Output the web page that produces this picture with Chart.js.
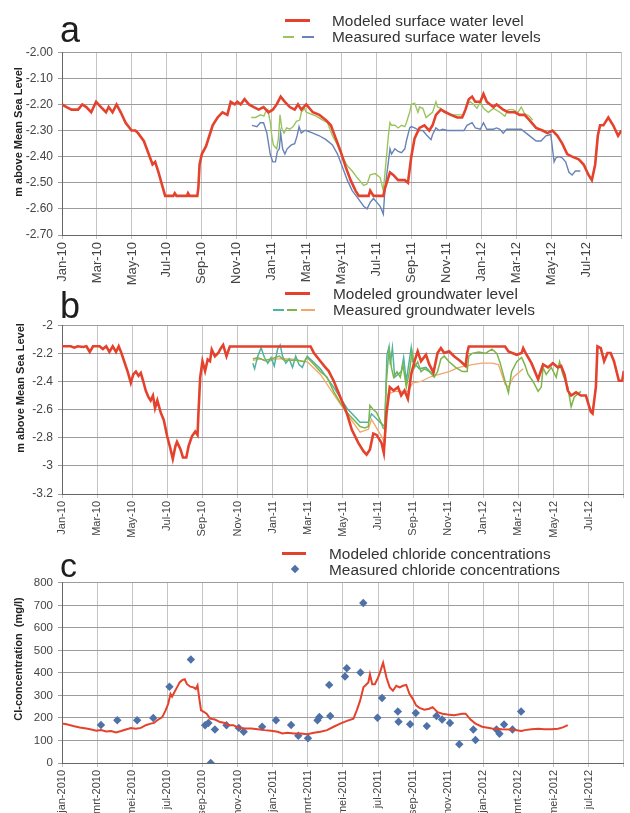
<!DOCTYPE html>
<html><head><meta charset="utf-8">
<script src="https://cdn.jsdelivr.net/npm/chart.js@4.4.0/dist/chart.umd.min.js"></script>
<style>
html,body{margin:0;padding:0;width:630px;height:813px;overflow:hidden;background:#fff;font-family:"Liberation Sans",Arial,sans-serif;}
#wrap{position:relative;width:630px;height:813px;overflow:hidden;}
canvas{position:absolute;left:0;}
.letter{position:absolute;font-size:36px;color:#1e1e1e;line-height:1;}
.leg{position:absolute;font-size:15.4px;color:#333;white-space:nowrap;line-height:1;}
.sw{position:absolute;}
.ytitle{position:absolute;font-weight:bold;font-size:11px;color:#222;white-space:nowrap;line-height:1;transform:translate(-50%,-50%) rotate(-90deg);}
</style></head>
<body><div id="wrap">
<canvas id="ca" width="640" height="250" style="top:40px"></canvas>
<canvas id="cb" width="640" height="236" style="top:313px"></canvas>
<canvas id="cc" width="640" height="242" style="top:571px"></canvas>

<div class="letter" style="left:60px;top:12px">a</div>
<div class="letter" style="left:60px;top:288px">b</div>
<div class="letter" style="left:60px;top:548px;font-size:34px">c</div>

<div class="sw" style="left:285px;top:19px;width:25px;height:3px;background:#e4422c"></div>
<div class="sw" style="left:283px;top:35.5px;width:11px;height:2px;background:#9cc45c"></div>
<div class="sw" style="left:302px;top:35.5px;width:12px;height:2px;background:#6883b8"></div>
<div class="leg" style="left:332px;top:13px">Modeled surface water level</div>
<div class="leg" style="left:332px;top:29px">Measured surface water levels</div>

<div class="sw" style="left:285px;top:292px;width:25px;height:3px;background:#e4422c"></div>
<div class="sw" style="left:273px;top:309px;width:11px;height:2px;background:#4fb3a2"></div>
<div class="sw" style="left:287px;top:309px;width:10px;height:2px;background:#7cb64a"></div>
<div class="sw" style="left:301px;top:309px;width:14px;height:2px;background:#f3a66a"></div>
<div class="leg" style="left:333px;top:286px">Modeled groundwater level</div>
<div class="leg" style="left:333px;top:302px">Measured groundwater levels</div>

<div class="sw" style="left:282px;top:552px;width:24px;height:3px;background:#e4422c"></div>
<div class="sw" style="left:292px;top:566px;width:6px;height:6px;background:#4e71a8;transform:rotate(45deg)"></div>
<div class="leg" style="left:329px;top:546px">Modeled chloride concentrations</div>
<div class="leg" style="left:329px;top:562px">Measured chloride concentrations</div>

<div class="ytitle" style="left:18px;top:132px">m above Mean Sea Level</div>
<div class="ytitle" style="left:20px;top:388px">m above Mean Sea Level</div>
<div class="ytitle" style="left:17.5px;top:659px">Cl-concentration&nbsp;&nbsp;(mg/l)</div>
</div>
<script>
// x values are months since 1 Jan 2010
const tickMonths = [0,2,4,6,8,10,12,14,16,18,20,22,24,26,28,30,32];
const levelTickLabels = ['Jan-10','Mar-10','May-10','Jul-10','Sep-10','Nov-10','Jan-11','Mar-11','May-11','Jul-11','Sep-11','Nov-11','Jan-12','Mar-12','May-12','Jul-12',''];
const chlorideTickLabels = ['jan-2010','mrt-2010','mei-2010','jul-2010','sep-2010','nov-2010','jan-2011','mrt-2011','mei-2011','jul-2011','sep-2011','nov-2011','jan-2012','mrt-2012','mei-2012','jul-2012',''];

// Panel a: surface water
const swModelMonths = [0,0.26,0.54,0.92,1.16,1.39,1.67,1.95,2.23,2.52,2.67,2.89,3.12,3.36,3.64,3.98,4.2,4.35,4.68,4.96,5.18,5.33,5.52,5.9,6.37,6.45,6.55,7.15,7.21,7.3,7.74,7.8,7.87,8.0,8.24,8.43,8.62,8.9,9.18,9.46,9.65,9.88,10.03,10.22,10.44,10.69,10.97,11.25,11.53,11.81,12.06,12.28,12.51,12.75,13.03,13.31,13.5,13.69,13.97,14.35,14.72,15.1,15.38,15.66,15.94,16.23,16.51,16.79,16.98,17.54,17.63,17.82,18.38,18.48,18.76,18.95,19.23,19.61,19.79,19.98,20.17,20.45,20.73,21.01,21.2,21.39,21.67,21.95,22.24,22.61,22.89,23.08,23.27,23.46,23.64,23.93,24.11,24.3,24.49,24.68,24.86,25.24,25.52,25.9,26.18,26.46,26.74,27.12,27.49,27.77,28.06,28.34,28.62,28.9,29.18,29.56,29.84,30.12,30.31,30.5,30.65,30.78,30.97,31.25,31.53,31.81,32.0];
const swModelLevel = [-2.20,-2.21,-2.22,-2.22,-2.20,-2.21,-2.23,-2.19,-2.21,-2.23,-2.21,-2.23,-2.20,-2.23,-2.27,-2.30,-2.30,-2.31,-2.34,-2.39,-2.43,-2.42,-2.46,-2.55,-2.55,-2.54,-2.55,-2.55,-2.54,-2.55,-2.55,-2.52,-2.43,-2.39,-2.36,-2.32,-2.28,-2.25,-2.23,-2.24,-2.19,-2.20,-2.19,-2.20,-2.18,-2.20,-2.21,-2.22,-2.21,-2.23,-2.22,-2.20,-2.17,-2.19,-2.21,-2.22,-2.20,-2.22,-2.20,-2.23,-2.24,-2.26,-2.28,-2.33,-2.38,-2.44,-2.49,-2.53,-2.55,-2.55,-2.53,-2.55,-2.55,-2.52,-2.46,-2.47,-2.49,-2.49,-2.50,-2.40,-2.33,-2.29,-2.28,-2.30,-2.28,-2.24,-2.22,-2.23,-2.24,-2.25,-2.25,-2.22,-2.18,-2.17,-2.19,-2.19,-2.16,-2.19,-2.20,-2.21,-2.20,-2.22,-2.23,-2.23,-2.24,-2.24,-2.26,-2.29,-2.30,-2.31,-2.30,-2.32,-2.35,-2.39,-2.40,-2.41,-2.43,-2.47,-2.49,-2.43,-2.32,-2.28,-2.28,-2.25,-2.28,-2.32,-2.30];
const swGreenMonths = [10.82,11.07,11.36,11.55,11.64,11.77,11.92,12.0,12.09,12.28,12.38,12.47,12.57,12.7,12.85,13.03,13.22,13.41,13.6,13.69,13.88,13.97,14.54,14.91,15.19,15.47,15.76,16.04,16.32,16.6,16.88,17.26,17.45,17.63,17.91,18.2,18.38,18.48,18.67,18.76,18.85,19.04,19.23,19.42,19.61,19.7,19.89,19.98,20.17,20.36,20.45,20.64,20.83,21.01,21.2,21.39,21.48,21.67,21.86,22.14,22.42,22.7,22.99,23.17,23.36,23.55,23.74,23.93,24.11,24.39,24.68,25.05,25.33,25.52,25.8,26.08,26.27,26.46,26.74,26.93];
const swGreenLevel = [-2.25,-2.25,-2.24,-2.245,-2.23,-2.22,-2.27,-2.32,-2.355,-2.37,-2.33,-2.24,-2.29,-2.31,-2.29,-2.295,-2.285,-2.265,-2.26,-2.23,-2.215,-2.23,-2.245,-2.26,-2.27,-2.32,-2.355,-2.40,-2.435,-2.455,-2.48,-2.51,-2.505,-2.47,-2.465,-2.48,-2.53,-2.46,-2.32,-2.27,-2.28,-2.28,-2.29,-2.28,-2.285,-2.27,-2.23,-2.20,-2.195,-2.23,-2.21,-2.215,-2.25,-2.24,-2.23,-2.19,-2.21,-2.215,-2.23,-2.235,-2.24,-2.24,-2.24,-2.20,-2.19,-2.20,-2.215,-2.19,-2.215,-2.23,-2.215,-2.23,-2.245,-2.22,-2.22,-2.23,-2.21,-2.235,-2.245,-2.26];
const swBlueMonths = [10.87,11.15,11.34,11.53,11.72,11.91,12.06,12.21,12.32,12.43,12.51,12.62,12.75,12.88,13.12,13.31,13.45,13.56,13.69,13.88,13.97,14.35,14.72,15.1,15.47,15.76,16.04,16.32,16.6,16.88,17.26,17.45,17.63,17.82,18.01,18.2,18.38,18.48,18.67,18.76,18.85,19.04,19.23,19.42,19.61,19.7,19.89,19.98,20.17,20.45,20.64,20.83,21.11,21.2,21.39,21.58,21.77,22.05,22.33,22.8,22.99,23.17,23.46,23.64,23.93,24.11,24.3,24.68,24.86,25.05,25.24,25.43,25.61,25.99,26.27,26.55,26.93,27.12,27.4,27.68,27.96,28.15,28.25,28.43,28.62,28.81,29.0,29.18,29.37,29.65];
const swBlueLevel = [-2.28,-2.285,-2.27,-2.27,-2.31,-2.39,-2.42,-2.42,-2.38,-2.37,-2.31,-2.37,-2.39,-2.37,-2.355,-2.35,-2.32,-2.285,-2.31,-2.30,-2.30,-2.31,-2.32,-2.335,-2.355,-2.39,-2.44,-2.49,-2.53,-2.555,-2.59,-2.60,-2.575,-2.56,-2.575,-2.59,-2.62,-2.52,-2.42,-2.37,-2.39,-2.37,-2.38,-2.385,-2.37,-2.34,-2.29,-2.285,-2.29,-2.30,-2.30,-2.315,-2.335,-2.315,-2.29,-2.30,-2.295,-2.30,-2.30,-2.30,-2.30,-2.28,-2.27,-2.29,-2.295,-2.27,-2.295,-2.295,-2.29,-2.295,-2.31,-2.295,-2.295,-2.295,-2.295,-2.31,-2.33,-2.34,-2.34,-2.32,-2.315,-2.42,-2.405,-2.40,-2.405,-2.42,-2.46,-2.47,-2.455,-2.455];

// Panel b: groundwater
const gwModelMonths = [0,0.5,0.7,0.9,1.2,1.39,1.58,1.77,2.14,2.33,2.52,2.7,2.89,3.08,3.23,3.36,3.55,3.74,3.92,4.06,4.21,4.36,4.49,4.62,4.77,4.92,5.05,5.18,5.3,5.43,5.62,5.8,5.99,6.18,6.31,6.46,6.55,6.74,6.89,7.08,7.21,7.4,7.59,7.72,7.77,7.87,8.0,8.15,8.3,8.43,8.53,8.71,8.9,9.05,9.18,9.37,9.56,12.0,12.3,13.97,14.16,14.35,14.72,15.0,15.19,15.47,15.85,16.23,16.51,16.88,17.17,17.35,17.54,17.73,17.92,18.2,18.33,18.48,18.67,18.89,19.14,19.32,19.51,19.7,19.89,20.08,20.26,20.45,20.73,20.92,21.16,21.39,21.58,21.77,22.05,22.33,22.7,22.99,23.08,23.17,24.49,25.24,25.43,25.9,26.18,26.27,26.46,26.74,27.12,27.4,27.68,27.96,28.25,28.43,28.62,28.81,29.0,29.28,29.56,29.84,30.12,30.22,30.41,30.5,30.69,30.88,31.07,31.25,31.44,31.72,31.91,32.0];
const gwModelLevel = [-2.15,-2.15,-2.16,-2.15,-2.155,-2.15,-2.19,-2.15,-2.15,-2.17,-2.15,-2.19,-2.15,-2.19,-2.15,-2.19,-2.26,-2.33,-2.41,-2.35,-2.33,-2.36,-2.34,-2.395,-2.465,-2.51,-2.535,-2.50,-2.59,-2.535,-2.62,-2.675,-2.79,-2.88,-2.95,-2.86,-2.83,-2.88,-2.94,-2.94,-2.86,-2.79,-2.756,-2.78,-2.63,-2.372,-2.256,-2.326,-2.244,-2.256,-2.174,-2.221,-2.198,-2.163,-2.14,-2.221,-2.151,-2.151,-2.151,-2.151,-2.151,-2.198,-2.256,-2.30,-2.326,-2.395,-2.51,-2.628,-2.744,-2.837,-2.895,-2.92,-2.884,-2.77,-2.78,-2.837,-2.907,-2.628,-2.44,-2.465,-2.44,-2.50,-2.465,-2.523,-2.349,-2.256,-2.186,-2.256,-2.21,-2.279,-2.337,-2.198,-2.163,-2.198,-2.186,-2.221,-2.256,-2.29,-2.198,-2.151,-2.151,-2.151,-2.186,-2.21,-2.198,-2.163,-2.21,-2.27,-2.384,-2.279,-2.30,-2.27,-2.30,-2.29,-2.349,-2.465,-2.50,-2.477,-2.50,-2.50,-2.616,-2.628,-2.44,-2.151,-2.163,-2.256,-2.198,-2.198,-2.256,-2.395,-2.395,-2.326];
const gwTealMonths = [10.87,10.97,11.15,11.34,11.53,11.72,11.91,12.09,12.28,12.43,12.56,12.75,12.94,13.13,13.31,13.5,13.69,13.88,13.97,14.72,15.47,16.23,16.98,17.45,17.63,18.2,18.38,18.51,18.63,18.7,18.82,18.95,19.32,19.46,19.61,19.89,19.98,20.36,20.73,21.2];
const gwTealLevel = [-2.27,-2.31,-2.22,-2.16,-2.23,-2.27,-2.23,-2.29,-2.17,-2.14,-2.22,-2.27,-2.24,-2.30,-2.22,-2.28,-2.30,-2.24,-2.22,-2.31,-2.44,-2.59,-2.69,-2.69,-2.63,-2.70,-2.72,-2.21,-2.15,-2.28,-2.16,-2.37,-2.33,-2.23,-2.40,-2.16,-2.26,-2.31,-2.30,-2.36];
const gwGreenMonths = [10.87,11.15,11.53,11.91,12.38,12.66,13.03,13.41,13.78,13.97,14.35,14.72,15.1,15.47,15.85,16.23,16.6,16.98,17.26,17.45,17.54,17.73,17.92,18.1,18.29,18.38,18.48,18.63,18.76,18.89,19.08,19.27,19.42,19.61,19.79,19.94,20.08,20.26,20.45,20.64,20.92,21.2,21.39,21.58,21.77,22.05,22.42,22.8,23.08,23.17,23.36,23.74,24.11,24.49,24.77,24.96,25.24,25.43,25.61,25.9,26.18,26.36,26.55,26.83,27.12,27.3,27.4,27.58,27.87,28.15,28.34,28.53,28.81,29.0,29.18,29.37,29.56];
const gwGreenLevel = [-2.24,-2.23,-2.25,-2.24,-2.22,-2.25,-2.25,-2.25,-2.26,-2.23,-2.28,-2.33,-2.37,-2.47,-2.55,-2.62,-2.67,-2.72,-2.73,-2.72,-2.57,-2.60,-2.62,-2.67,-2.73,-2.74,-2.40,-2.16,-2.30,-2.37,-2.33,-2.37,-2.28,-2.44,-2.33,-2.19,-2.30,-2.26,-2.33,-2.31,-2.33,-2.37,-2.33,-2.24,-2.22,-2.26,-2.30,-2.33,-2.33,-2.22,-2.20,-2.19,-2.20,-2.17,-2.20,-2.27,-2.40,-2.48,-2.33,-2.26,-2.23,-2.28,-2.35,-2.40,-2.47,-2.44,-2.30,-2.35,-2.30,-2.37,-2.26,-2.35,-2.44,-2.58,-2.51,-2.49,-2.47];
const gwOrangeMonths = [10.87,11.34,11.72,12.19,12.56,13.03,13.5,13.88,13.97,14.72,15.47,16.23,16.98,17.45,17.63,18.2,18.38,18.57,18.95,19.42,19.7,19.98,20.45,20.92,21.48,22.05,22.61,23.36,23.93,24.49,24.86,25.24,25.43,25.71,25.99,26.27];
const gwOrangeLevel = [-2.25,-2.24,-2.26,-2.24,-2.24,-2.24,-2.25,-2.26,-2.26,-2.35,-2.49,-2.63,-2.76,-2.74,-2.67,-2.79,-2.84,-2.49,-2.47,-2.47,-2.47,-2.41,-2.40,-2.37,-2.35,-2.33,-2.30,-2.28,-2.27,-2.27,-2.28,-2.42,-2.44,-2.37,-2.34,-2.31];

// Panel c: chloride (mg/l)
const clModelMonths = [0,0.26,0.64,1.01,1.39,1.67,1.95,2.23,2.52,2.8,3.08,3.36,3.64,3.92,4.21,4.49,4.77,5.05,5.24,5.43,5.71,5.9,6.05,6.18,6.27,6.4,6.55,6.7,6.84,6.99,7.12,7.31,7.49,7.62,7.72,7.81,7.92,8.06,8.24,8.43,8.71,9.0,9.28,9.46,9.75,10.03,10.4,10.78,11.15,11.53,11.91,12.28,12.56,12.85,13.22,13.6,13.97,14.35,14.72,15.1,15.47,15.85,16.23,16.6,16.79,16.98,17.17,17.45,17.54,17.67,17.82,18.01,18.14,18.29,18.48,18.67,18.85,19.04,19.23,19.42,19.61,19.79,19.98,20.17,20.36,20.64,20.92,21.11,21.39,21.67,21.95,22.33,22.8,22.99,23.27,23.55,23.93,24.49,25.05,25.61,26.18,26.36,26.74,27.12,27.49,27.87,28.25,28.53,28.81];
const clModelConc = [175,172,164,158,153,149,143,146,140,142,136,142,149,155,152,156,168,175,178,190,204,234,263,307,295,314,336,358,368,372,350,339,336,329,345,292,234,228,219,197,193,182,178,168,168,158,153,153,150,146,143,139,131,134,131,131,128,134,139,146,161,175,187,197,234,277,336,358,394,350,350,380,409,445,380,336,321,343,336,343,347,307,285,256,245,237,241,248,226,219,215,212,219,219,193,175,161,153,150,149,142,146,150,152,150,150,152,158,168];
const clMeasMonths = [2.22,3.15,4.28,5.2,6.12,7.34,8.15,8.34,8.47,8.71,9.37,10.07,10.35,11.4,12.19,13.05,13.46,14.01,14.55,14.66,15.22,15.28,16.12,16.22,17.0,17.16,17.97,18.23,19.13,19.17,19.83,20.15,20.78,21.33,21.65,22.1,22.63,23.43,23.55,24.75,24.92,25.18,25.66,26.15];
const clMeasConc = [169,190,190,200,339,460,168,178,0,149,168,156,139,161,190,169,121,110,190,204,347,209,384,421,402,711,201,289,229,183,172,222,164,209,193,178,83,149,102,149,130,171,149,229];

const RED = '#e4422c';
const pts = (xs, ys) => xs.map((x, i) => ({x, y: ys[i]}));
Chart.defaults.font.family = '"Liberation Sans", Arial, sans-serif';

function line(xs, ys, color, width) {
  return {type: 'line', data: pts(xs, ys), borderColor: color, backgroundColor: color,
          borderWidth: width, pointRadius: 0, tension: 0, fill: false};
}

function makeChart(id, datasets, xLabels, xFont, y) {
  return new Chart(document.getElementById(id), {
    type: 'line',
    data: {datasets},
    options: {
      responsive: false, animation: false, devicePixelRatio: 1,
      layout: {padding: {top: 10, right: 10, left: 0, bottom: 0}},
      plugins: {legend: {display: false}, tooltip: {enabled: false}},
      scales: {
        x: {
          type: 'linear', min: 0, max: 32,
          afterBuildTicks: s => { s.ticks = tickMonths.map(v => ({value: v})); },
          afterFit: s => { s.height = y.xHeight; },
          ticks: {autoSkip: false, minRotation: 90, maxRotation: 90, padding: 3,
                  color: '#444', font: {size: xFont},
                  callback: (v, i) => xLabels[i] === undefined ? '' : xLabels[i]},
          grid: {color: '#c4c4c4', lineWidth: 1, tickLength: 4},
          border: {color: '#666', width: 1}
        },
        y: {
          min: y.min, max: y.max,
          afterFit: s => { s.width = 62; },
          ticks: {stepSize: y.step, padding: 5, color: '#444', font: {size: y.font},
                  callback: y.fmt},
          grid: {color: '#9c9c9c', lineWidth: 1, tickLength: 4},
          border: {color: '#666', width: 1}
        }
      }
    }
  });
}

makeChart('ca', [
  line(swModelMonths, swModelLevel, RED, 2.6),
  line(swGreenMonths, swGreenLevel, '#9cc45c', 1.4),
  line(swBlueMonths, swBlueLevel, '#6883b8', 1.4)
], levelTickLabels, 13, {min: -2.7, max: -2.0, step: 0.1, font: 12, xHeight: 55,
   fmt: v => v.toFixed(2)});

makeChart('cb', [
  line(gwModelMonths, gwModelLevel, RED, 2.6),
  line(gwGreenMonths, gwGreenLevel, '#7cb64a', 1.5),
  line(gwTealMonths, gwTealLevel, '#4fb3a2', 1.5),
  line(gwOrangeMonths, gwOrangeLevel, '#f3a66a', 1.3)
], levelTickLabels, 11, {min: -3.2, max: -2.0, step: 0.2, font: 12, xHeight: 55,
   fmt: v => String(Number(v.toFixed(1)))});

makeChart('cc', [
  line(clModelMonths, clModelConc, RED, 2),
  {type: 'scatter', data: pts(clMeasMonths, clMeasConc), showLine: false,
   pointStyle: 'rectRot', pointRadius: 4.2, borderWidth: 0,
   backgroundColor: '#4e71a8', borderColor: '#4e71a8'}
], chlorideTickLabels, 11, {min: 0, max: 800, step: 100, font: 11.5, xHeight: 50,
   fmt: v => String(v)});
</script>
</body></html>
